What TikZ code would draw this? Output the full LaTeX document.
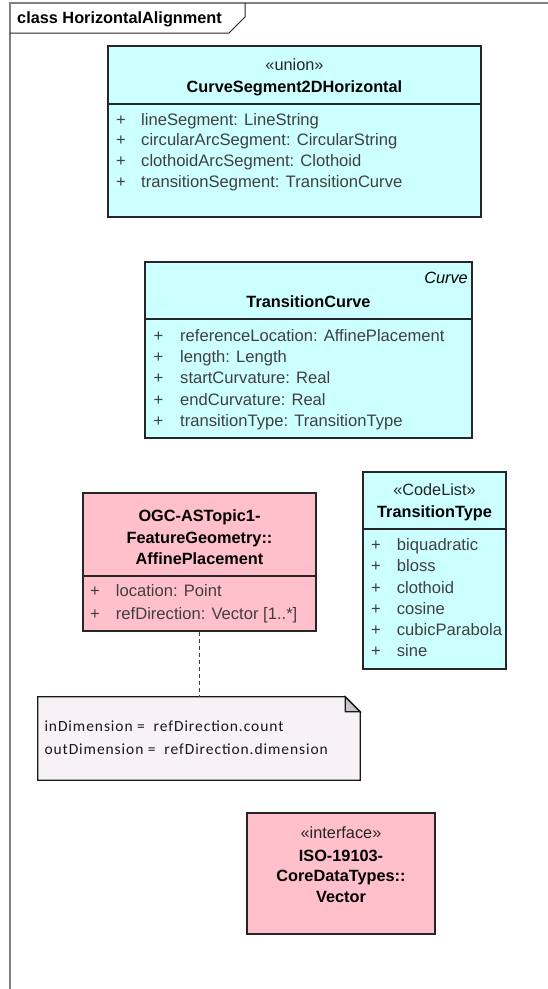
\documentclass[tikz,border=0pt]{standalone}
\usepackage{fontspec}
\setmainfont{Liberation Sans}
\newfontfamily\notefont[LetterSpace=6]{Carlito}
\definecolor{cyanf}{RGB}{204,255,255}
\definecolor{pinkf}{RGB}{255,192,203}
\definecolor{notef}{RGB}{246,242,245}
\definecolor{framegray}{RGB}{128,128,128}
\newcommand\umlfont{\fontsize{16.3}{19}\selectfont}
\newcommand\attrfont{\fontsize{16.6}{19}\selectfont}
\newcommand\attrlist[6]{%
  \foreach \t [count=\i from 0] in {#6}{%
    \node[attr] (#1p\i) at (#2,{#4+#5*\i}) {+};
    \node[attr] (#1a\i) at (#3,{#4+#5*\i}) {\t};
  }}
\begin{document}
\begin{tikzpicture}[x=1pt,y=-1pt,
  clsbox/.style={draw=black!85, line width=1.3pt, inner sep=0pt},
  cyanbox/.style={clsbox, fill=cyanf},
  pinkbox/.style={clsbox, fill=pinkf},
  divider/.style={draw=black!85, line width=1.3pt},
  attr/.style={anchor=base west, inner sep=0pt, text=black!75, font=\attrfont},
  stereo/.style={anchor=base, inner sep=0pt, text=black!85, font=\umlfont},
  title/.style={anchor=base, inner sep=0pt, text=black, font=\umlfont\bfseries},
  notetext/.style={anchor=base west, inner sep=0pt, text=black!90, font=\notefont\fontsize{15.5}{18}\selectfont},
  anchorline/.style={draw=black!75, line width=1.2pt, dash pattern=on 4pt off 3pt}
]
\useasboundingbox (0,0) rectangle (548,989);
\fill[white] (0,0) rectangle (548,989);

% frame
\draw[framegray, line width=2pt] (10,989) -- (10,3) -- (548,3);
\draw[black!85, line width=1pt] (10,33) -- (229,33) -- (245,17) -- (245,3);
\node[anchor=base west, inner sep=0pt, font=\umlfont\bfseries] (framelabel) at (17,23.3) {class HorizontalAlignment};

% CurveSegment2DHorizontal
\node[cyanbox, minimum width=373pt, minimum height=171pt] (u) at (294.5,131.5) {};
\draw[divider] (108,104) -- (481,104);
\node[stereo] (ust) at (294.5,70) {«union»};
\node[title] (unm) at (294.5,92.7) {CurveSegment2DHorizontal};
\attrlist{u}{116}{141}{125}{20.9}{{lineSegment: LineString},{circularArcSegment: CircularString},{clothoidArcSegment: Clothoid},{transitionSegment: TransitionCurve}}

% TransitionCurve
\node[cyanbox, minimum width=327pt, minimum height=176pt] (tc) at (308.5,350) {};
\draw[divider] (145,319) -- (472,319);
\node[anchor=base east, inner sep=0pt, text=black, font=\umlfont\itshape] (tcst) at (468,283) {Curve};
\node[title] (tcnm) at (308.5,307.7) {TransitionCurve};
\attrlist{tc}{153.5}{180}{341}{21.4}{{referenceLocation: AffinePlacement},{length: Length},{startCurvature: Real},{endCurvature: Real},{transitionType: TransitionType}}

% AffinePlacement
\node[pinkbox, minimum width=233pt, minimum height=138pt] (ap) at (199.5,562) {};
\draw[divider] (83,576) -- (316,576);
\node[title] (apn1) at (199.5,521) {OGC-ASTopic1-};
\node[title] (apn2) at (199.5,543.3) {FeatureGeometry::};
\node[title] (apn3) at (199.5,564.3) {AffinePlacement};
\attrlist{ap}{90}{115.7}{596.7}{22.6}{{location: Point},{refDirection: Vector [1..*]}}

% TransitionType
\node[cyanbox, minimum width=143pt, minimum height=197pt] (tt) at (434.5,570.5) {};
\draw[divider] (363,529) -- (506,529);
\node[stereo] (ttst) at (434.5,495.7) {«CodeList»};
\node[title] (ttnm) at (434.5,517.3) {TransitionType};
\attrlist{tt}{371}{396.7}{550.7}{21.2}{{biquadratic},{bloss},{clothoid},{cosine},{cubicParabola},{sine}}

% Note
\node[inner sep=0pt, minimum width=322pt, minimum height=83pt] (note) at (199,738.5) {};
\draw[fill=notef, draw=black!90, line width=1.3pt] (note.north west) -- ([xshift=-15pt]note.north east) -- ([yshift=-15pt]note.north east) -- (note.south east) -- (note.south west) -- cycle;
\draw[fill=black!22, draw=black!90, line width=1.3pt] ([xshift=-15pt]note.north east) -- ([xshift=-15pt,yshift=-15pt]note.north east) -- ([yshift=-15pt]note.north east) -- cycle;
\node[notetext] (n1) at (44.3,731.7) {inDimension = \ refDirection.count};
\node[notetext] (n2) at (44.3,754.3) {outDimension = \ refDirection.dimension};
\draw[anchorline] (ap.south) -- (ap.south |- note.north);

% Vector
\node[pinkbox, minimum width=188pt, minimum height=121pt] (vec) at (341,873.5) {};
\node[stereo] (vst) at (341,838.3) {«interface»};
\node[title] (vn1) at (341,861) {ISO-19103-};
\node[title] (vn2) at (341,881.7) {CoreDataTypes::};
\node[title] (vn3) at (341,902.7) {Vector};
\end{tikzpicture}
\end{document}
